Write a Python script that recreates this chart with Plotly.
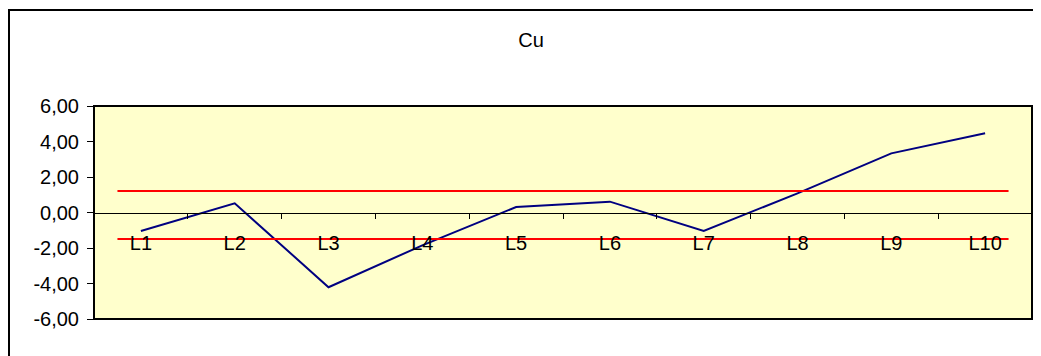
import plotly.graph_objects as go

categories = ["L1", "L2", "L3", "L4", "L5", "L6", "L7", "L8", "L9", "L10"]
cu_values = [-1.04, 0.52, -4.21, -1.85, 0.31, 0.61, -1.04, 1.08, 3.33, 4.46]
upper_limit = 1.21
lower_limit = -1.49
limit_x = [-0.25, 9.25]
y_tickvals = [-6, -4, -2, 0, 2, 4, 6]
y_ticktext = ["-6,00", "-4,00", "-2,00", "0,00", "2,00", "4,00", "6,00"]

FONT = "Liberation Sans, Arial, sans-serif"

# the page adds an 8px body margin, so the figure is offset by (8, 8)
OFF = 8
W, H = 1041 - OFF, 356 - OFF
L, T, R_EDGE, B_EDGE = 94 - OFF, 106 - OFF, 1032 - OFF, 319 - OFF
plot_w = R_EDGE - L
plot_h = B_EDGE - T

fig = go.Figure()
fig.add_trace(go.Scatter(x=categories, y=cu_values, mode="lines",
                         line=dict(color="#000080", width=2),
                         xaxis="x", yaxis="y", showlegend=False))
fig.add_trace(go.Scatter(x=limit_x, y=[upper_limit, upper_limit], mode="lines",
                         line=dict(color="#FF0000", width=2),
                         xaxis="x2", yaxis="y", showlegend=False))
fig.add_trace(go.Scatter(x=limit_x, y=[lower_limit, lower_limit], mode="lines",
                         line=dict(color="#FF0000", width=2),
                         xaxis="x2", yaxis="y", showlegend=False))

fig.update_layout(
    width=W, height=H,
    margin=dict(l=L, r=W - R_EDGE, t=T, b=H - B_EDGE, pad=0),
    paper_bgcolor="white",
    plot_bgcolor="#FFFFCC",
    font=dict(family=FONT, size=20, color="black"),
    title=dict(text="Cu", x=(531 - OFF) / W, xref="container", xanchor="center",
               y=1 - (40 - OFF) / H, yref="container", yanchor="middle",
               font=dict(family=FONT, size=20, color="black")),
    xaxis=dict(type="category", categoryorder="array", categoryarray=categories,
               range=[-0.5, 9.5], anchor="free", position=0.5,
               showline=True, linecolor="black", linewidth=1,
               ticks="outside", ticklen=5, tickcolor="black", tickwidth=1,
               tickson="boundaries", showgrid=False, zeroline=False,
               ticklabelstandoff=12,
               tickfont=dict(family=FONT, size=20, color="black")),
    xaxis2=dict(type="linear", range=[-0.5, 9.5], overlaying="x",
                visible=False, showgrid=False, zeroline=False),
    yaxis=dict(range=[-6, 6], tickvals=y_tickvals, ticktext=y_ticktext,
               ticks="outside", ticklen=6, tickcolor="black", tickwidth=1,
               showgrid=False, zeroline=False, showline=False,
               ticklabelstandoff=4,
               tickfont=dict(family=FONT, size=20, color="black")),
    showlegend=False,
)

# plot-area border
fig.add_shape(type="rect", xref="paper", yref="paper", x0=0, x1=1, y0=0, y1=1,
              line=dict(color="black", width=2), fillcolor="rgba(0,0,0,0)", layer="above")
# chart-area border (extends past right and bottom edges)
fig.add_shape(type="rect", xref="paper", yref="paper",
              x0=(9 - OFF - L) / plot_w, x1=(1060 - OFF - L) / plot_w,
              y0=(B_EDGE - 380) / plot_h, y1=(B_EDGE - (10 - OFF)) / plot_h,
              line=dict(color="black", width=2), fillcolor="rgba(0,0,0,0)", layer="above")

fig.write_html("out.html")
